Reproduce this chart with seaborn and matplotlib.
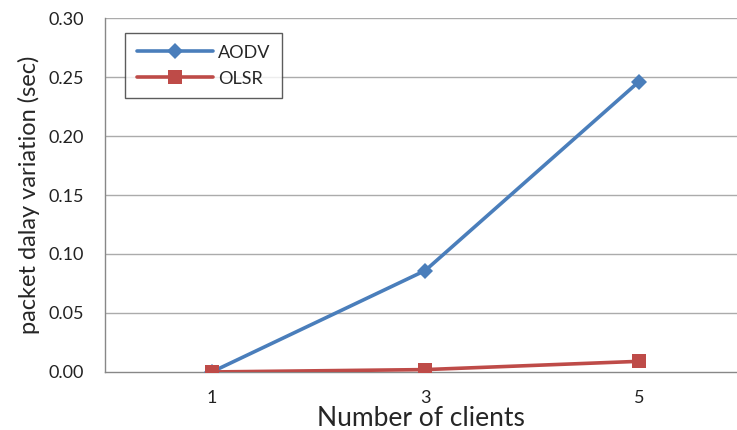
import numpy as np
import pandas as pd
import matplotlib
matplotlib.use("Agg")
import matplotlib.pyplot as plt
import seaborn as sns
from matplotlib.ticker import FixedLocator

sns.set_style("white")
plt.rcParams['font.family'] = ['Lato', 'DejaVu Sans']

# ------------------------------
# Data
# ------------------------------
clients = ["1", "3", "5"]
aodv_delay = [0.000, 0.086, 0.246]
olsr_delay = [0.000, 0.002, 0.009]

df = pd.DataFrame({
    "clients": clients * 2,
    "delay": aodv_delay + olsr_delay,
    "protocol": ["AODV"] * len(clients) + ["OLSR"] * len(clients),
})

palette = {"AODV": "#4A7EBB", "OLSR": "#BE4B48"}
markers = {"AODV": "D", "OLSR": "s"}

# ------------------------------
# Figure
# ------------------------------
fig = plt.figure(figsize=(7.37, 4.30), dpi=100)
ax = fig.add_axes([0.1425, 0.135, 0.8575, 0.823])

for y in np.arange(0.05, 0.31, 0.05):
    ax.axhline(y, color="#ABABAB", linewidth=1.0, zorder=0)

sns.lineplot(
    data=df,
    x="clients",
    y="delay",
    hue="protocol",
    style="protocol",
    palette=palette,
    markers=markers,
    dashes=False,
    linewidth=2.6,
    markersize=8,
    markeredgewidth=0,
    ax=ax,
    zorder=3,
)
# squares look bigger than diamonds in the original
for line in ax.get_lines():
    if line.get_marker() == "s":
        line.set_markersize(10.5)

ax.set_xlim(-0.5, 2.46)
ax.set_ylim(0, 0.30)
ax.set_yticks(np.arange(0, 0.31, 0.05))
ax.set_yticklabels([f"{v:.2f}" for v in np.arange(0, 0.31, 0.05)], fontsize=13, color="#222222")
ax.set_xticks(range(len(clients)))
ax.set_xticklabels(clients, fontsize=13, color="#222222")
ax.xaxis.set_minor_locator(FixedLocator([0.5, 1.5]))
ax.tick_params(axis="x", which="major", length=0, pad=13)
ax.tick_params(axis="x", which="minor", length=5, color="#888888", width=1)
ax.tick_params(axis="y", length=5, color="#888888", width=1, pad=10)

for side in ["top", "right"]:
    ax.spines[side].set_visible(False)
for side in ["left", "bottom"]:
    ax.spines[side].set_color("#888888")
    ax.spines[side].set_linewidth(1.0)

ax.set_xlabel("Number of clients", fontsize=19, labelpad=0)
ax.set_ylabel("packet dalay variation (sec)", fontsize=17, labelpad=6)

leg = ax.legend(
    loc="upper left",
    bbox_to_anchor=(0.032, 0.958),
    borderaxespad=0,
    fontsize=13,
    frameon=True,
    fancybox=False,
    handlelength=4.2,
    borderpad=0.65,
    labelspacing=0.55,
    handletextpad=0.3,
)
leg.get_frame().set_edgecolor("#333333")
leg.get_frame().set_linewidth(1.0)
for h in leg.legend_handles:
    h.set_linewidth(2.6)
leg.set_title(None)

fig.savefig("out.png", dpi=100)
plt.close(fig)
